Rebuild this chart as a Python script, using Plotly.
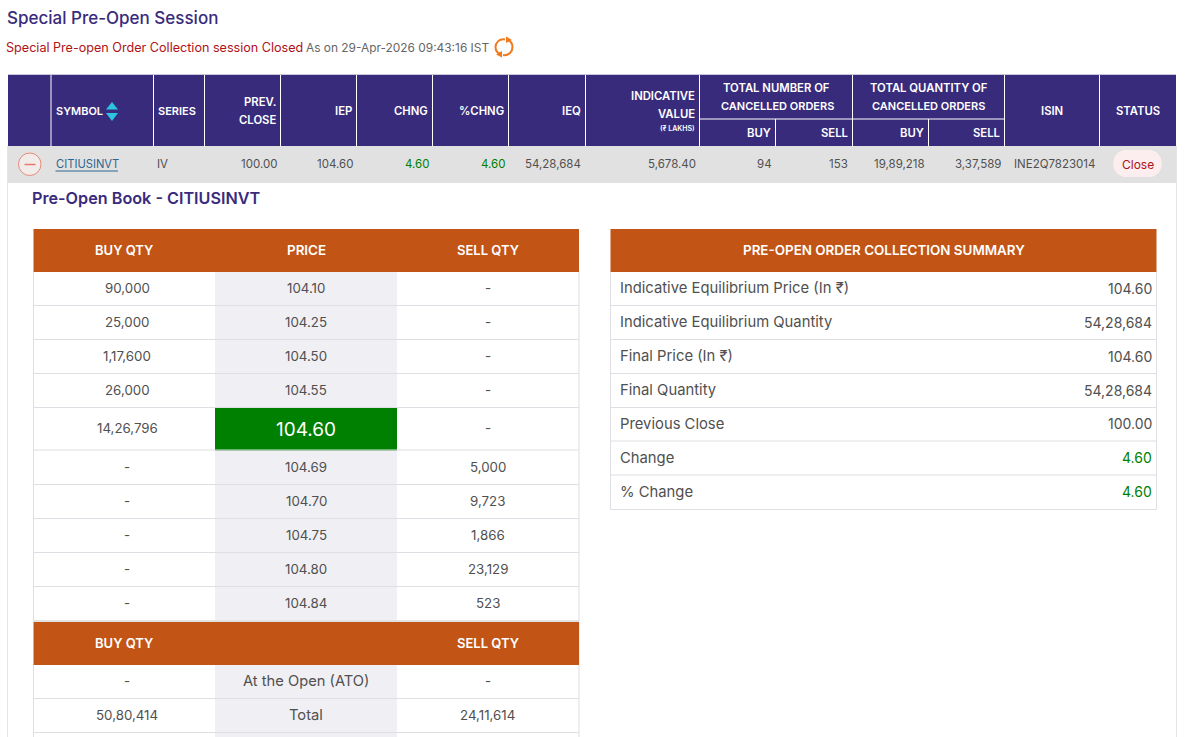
import plotly.graph_objects as go

# ---------- data ----------
page_title = "Special Pre-Open Session"
status_closed = "Special Pre-open Order Collection session Closed"
status_time = "As on 29-Apr-2026 09:43:16 IST"
book_title = "Pre-Open Book - CITIUSINVT"

symbol = "CITIUSINVT"
main_row = ["IV", "100.00", "104.60", "4.60", "4.60", "54,28,684", "5,678.40",
            "94", "153", "19,89,218", "3,37,589", "INE2Q7823014"]
status_label = "Close"

buy_qty = ["90,000", "25,000", "1,17,600", "26,000", "14,26,796", "-", "-", "-", "-", "-"]
prices = ["104.10", "104.25", "104.50", "104.55", "104.60", "104.69", "104.70", "104.75", "104.80", "104.84"]
sell_qty = ["-", "-", "-", "-", "-", "5,000", "9,723", "1,866", "23,129", "523"]
equilibrium_price = "104.60"

lower_buy = ["-", "50,80,414"]
lower_label = ["At the Open (ATO)", "Total"]
lower_sell = ["-", "24,11,614"]

summary_title = "PRE-OPEN ORDER COLLECTION SUMMARY"
summary_labels = ["Indicative Equilibrium Price (In ₹)", "Indicative Equilibrium Quantity",
                  "Final Price (In ₹)", "Final Quantity", "Previous Close", "Change", "% Change"]
summary_values = ["104.60", "54,28,684", "104.60", "54,28,684", "100.00", "4.60", "4.60"]

# ---------- style ----------
FONT = "Inter"
NAVY, ORANGE, GREEN = "#392B7C", "#C25515", "#008000"
TXT, GRID = "#505050", "#DEDEE4"
W, H = 1191, 737

shapes, annos = [], []

def rect(x0, y0, x1, y1, fill, line=None):
    shapes.append(dict(type="rect", x0=x0, y0=y0, x1=x1, y1=y1, fillcolor=fill,
                       line=dict(width=1 if line else 0, color=line or fill), layer="below"))

def line(x0, y0, x1, y1, color=GRID, width=1):
    shapes.append(dict(type="line", x0=x0, y0=y0, x1=x1, y1=y1, line=dict(color=color, width=width), layer="below"))

def text(x, y, s, size=13, color=TXT, anchor="center", weight=400):
    annos.append(dict(x=x, y=y, text=s, showarrow=False, xanchor=anchor, yanchor="middle",
                      font=dict(family=FONT, size=size, color=color, weight=weight), xref="x", yref="y",
                      borderpad=0, borderwidth=0))

# page headings
text(7, 18, page_title, 17, NAVY, "left", 500)
text(6, 47, status_closed, 12.6, "#B01116", "left")
text(306, 47, status_time, 11.9, "#666666", "left")
# refresh icon
ORG = "#F07A1E"
shapes.append(dict(type="path", path="M 505 39.5 C 499 38.5 495.5 43 495.5 47 C 495.5 50 497 52.5 500 54",
                   line=dict(color=ORG, width=2)))
shapes.append(dict(type="path", path="M 503 55 C 509 56 512.5 51.5 512.5 47 C 512.5 44 511 41.5 508 40",
                   line=dict(color=ORG, width=2)))
shapes.append(dict(type="path", path="M 506 36.5 L 512 40 L 506 43 Z", fillcolor=ORG, line=dict(width=0)))
shapes.append(dict(type="path", path="M 502 51 L 496 54.5 L 502 57.5 Z", fillcolor=ORG, line=dict(width=0)))

# container
line(7.5, 146, 7.5, H, "#E3E3EA")
line(1176.5, 146, 1176.5, H, "#E3E3EA")

# navy header
TOP, MID, BOT, ROWBOT = 75, 119, 146, 183
rect(8, TOP, 1176, BOT, NAVY)
line(8, 74.5, 1176, 74.5, "#C9C6DC")
for x in [51, 153.5, 204.5, 280.5, 356.5, 432.5, 508.5, 585.5, 699.5, 852.5, 1004.5, 1099.5]:
    line(x, TOP, x, BOT, "#FFFFFF")
for x in [775.5, 928.5]:
    line(x, MID, x, BOT, "#FFFFFF")
line(699.5, MID, 1004.5, MID, "#FFFFFF")

hc = (TOP + BOT) / 2
HW = 600
HS = 11.3
text(56, hc, "SYMBOL", 11, "#FFFFFF", "left", HW)
shapes.append(dict(type="path", path="M 106 109.5 L 118 109.5 L 112 102 Z", fillcolor="#2BC5E0", line=dict(width=0)))
shapes.append(dict(type="path", path="M 106 113 L 118 113 L 112 121 Z", fillcolor="#2BC5E0", line=dict(width=0)))
text(157.5, hc, "SERIES", 11, "#FFFFFF", "left", HW)
text(276, 102, "PREV.", HS, "#FFFFFF", "right", HW)
text(276, 120, "CLOSE", HS, "#FFFFFF", "right", HW)
for xr, s in [(352, "IEP"), (428, "CHNG"), (504, "%CHNG"), (581, "IEQ")]:
    text(xr, hc, s, HS, "#FFFFFF", "right", HW)
text(695, 96, "INDICATIVE", HS, "#FFFFFF", "right", HW)
text(695, 114, "VALUE", HS, "#FFFFFF", "right", HW)
text(695, 128, "(₹ LAKHS)", 7, "#FFFFFF", "right", 600)
text(776, 88, "TOTAL NUMBER OF", HS, "#FFFFFF", "center", HW)
text(777, 106, "CANCELLED ORDERS", 11, "#FFFFFF", "center", HW)
text(928.5, 88, "TOTAL QUANTITY OF", HS, "#FFFFFF", "center", HW)
text(928, 106, "CANCELLED ORDERS", 11, "#FFFFFF", "center", HW)
for xr, s in [(771, "BUY"), (848, "SELL"), (924, "BUY"), (1000, "SELL")]:
    text(xr, 133, s, HS, "#FFFFFF", "right", HW)
text(1052, 111, "ISIN", HS, "#FFFFFF", "center", HW)
text(1138, 111, "STATUS", HS, "#FFFFFF", "center", HW)

# grey data row
rect(8, BOT, 1176, ROWBOT, "#E1E1E1")
ry = (BOT + ROWBOT) / 2 - 0.5
shapes.append(dict(type="circle", x0=18.5, y0=153, x1=41, y1=175.5, fillcolor="#F1ECEA",
                   line=dict(color="#E58A7C", width=1), layer="below"))
line(24.5, 164.5, 35.5, 164.5, "#E8786A", 1.5)
text(55.5, ry, symbol, 11.2, "#2F6690", "left")
line(55.5, 171, 118, 171, "#2F6690", 1)
row_x = [157, 276.5, 352.5, 428.5, 504.5, 581, 695.5, 771.5, 848, 924.5, 1000.5, 1095]
row_anchor = ["left", "right", "right", "right", "right", "right", "right", "right", "right", "right", "right", "right"]
row_col = [TXT, TXT, TXT, GREEN, GREEN, TXT, TXT, TXT, TXT, TXT, TXT, TXT]
for x, a, c, s in zip(row_x, row_anchor, row_col, main_row):
    text(x, ry, s, 11.5, c, a)
# close pill
shapes.append(dict(type="path",
                   path="M 1126 150 L 1149 150 C 1166 150 1166 177 1149 177 L 1126 177 C 1109 177 1109 150 1126 150 Z",
                   fillcolor="#FCEEEE", line=dict(width=0)))
text(1137.5, 164, status_label, 12, "#B01116")

text(32, 198, book_title, 16.2, NAVY, "left", 600)

# book table
L, C1, C2, R = 33.5, 215, 397, 579
hx = [124, 306, 488]
cx = [127, 306, 487.5]
CS = 13.3
rect(L, 229, R, 272, ORANGE)
for x, s, z in zip(hx, ["BUY QTY", "PRICE", "SELL QTY"], [13, 13.4, 13]):
    text(x, 250, s, z, "#FFFFFF", "center", 600)

edges = [272, 306, 340, 374, 408, 450.5, 485, 519, 553, 587, 621]
rect(C1, 272, C2, 621, "#EFEFF4")
for i, (b, p, s) in enumerate(zip(buy_qty, prices, sell_qty)):
    y0, y1 = edges[i], edges[i + 1]
    yc = (y0 + y1) / 2 - 1
    if p == equilibrium_price:
        rect(C1, y0, C2, y1, GREEN)
        text(cx[1], yc + 1, p, 19, "#FFFFFF")
    else:
        text(cx[1], yc, p, CS)
    text(cx[0], yc, b, CS)
    text(cx[2], yc, s, CS)
    line(L, y1 - 0.5, R, y1 - 0.5)
rect(L, 620, R, 622, "#E2E2E2")
line(L, 272, L, 622)
line(R, 272, R, H)

rect(L, 622, R, 665, ORANGE)
text(hx[0], 643, "BUY QTY", 13, "#FFFFFF", "center", 600)
text(hx[2], 643, "SELL QTY", 13, "#FFFFFF", "center", 600)
low_edges = [665, 698.5, 732.5]
rect(C1, 665, C2, H, "#EFEFF4")
for i, (b, t, s) in enumerate(zip(lower_buy, lower_label, lower_sell)):
    yc = (low_edges[i] + low_edges[i + 1]) / 2 - 1
    text(cx[0], yc, b, CS)
    text(cx[1] - 0.5, yc, t, 14.7)
    text(cx[2], yc, s, CS)
    line(L, low_edges[i + 1], R, low_edges[i + 1])
line(L, 665, L, H)

# summary table
SL, SR = 610.5, 1156.5
rect(SL, 229, SR, 272, ORANGE)
text((SL + SR) / 2 + 0.5, 250, summary_title, 13.4, "#FFFFFF", "center", 600)
s_edges = [272, 305.5, 339.5, 373.5, 407.5, 441, 475, 509.5]
for i, (a, v) in enumerate(zip(summary_labels, summary_values)):
    yc = (s_edges[i] + s_edges[i + 1]) / 2 - 0.5
    text(620, yc, a, 14.8, TXT, "left")
    text(1152, yc, v, 14, GREEN if "Change" in a else TXT, "right")
    line(SL, s_edges[i + 1], SR, s_edges[i + 1])
line(SL, 272, SL, 509.5)
line(SR, 272, SR, 509.5)

fig = go.Figure()
fig.update_layout(
    width=W, height=H, margin=dict(l=0, r=0, t=0, b=0), autosize=False,
    paper_bgcolor="#FFFFFF", plot_bgcolor="#FFFFFF", showlegend=False,
    xaxis=dict(range=[0, W], visible=False, fixedrange=True),
    yaxis=dict(range=[H, 0], visible=False, fixedrange=True),
    shapes=shapes, annotations=annos,
)
fig.write_html("out.html", config=dict(displayModeBar=False),
               post_script="document.body.style.margin='0';document.documentElement.style.overflow='hidden';")
